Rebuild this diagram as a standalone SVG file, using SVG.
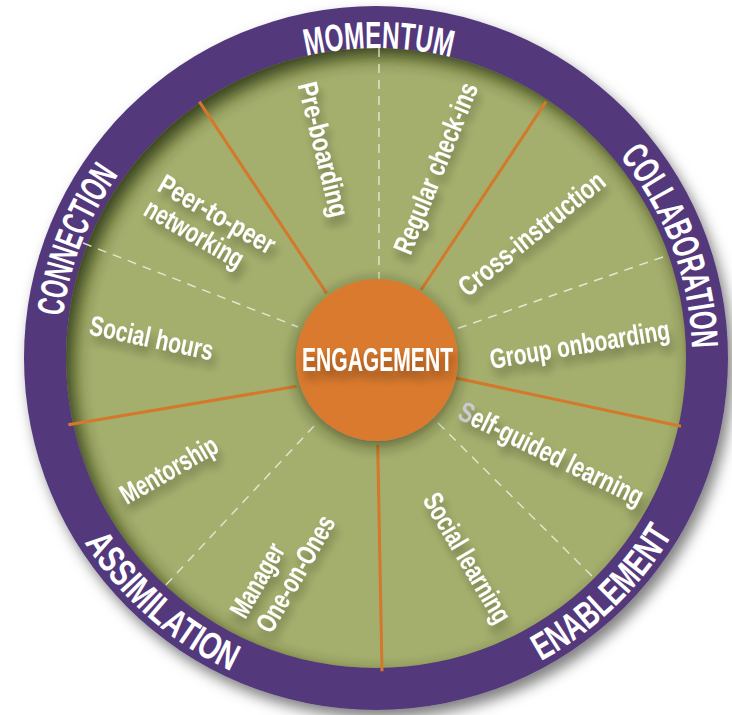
<svg xmlns="http://www.w3.org/2000/svg" width="732" height="715" viewBox="0 0 732 715">
  <style>
    .lbl { font-family: "Liberation Sans Narrow", "Liberation Sans", Arial, sans-serif; font-weight: bold; font-size: 28px; fill: #ffffff; }
    .arc { font-family: "Liberation Sans Narrow", "Liberation Sans", Arial, sans-serif; font-weight: bold; font-size: 38px; fill: #ffffff; text-anchor: middle; }
    .hub { font-family: "Liberation Sans Narrow", "Liberation Sans", Arial, sans-serif; font-weight: bold; font-size: 33px; fill: #ffffff; }
    .div { stroke: #d4782b; stroke-width: 3; stroke-linecap: butt; }
    .dash { stroke: #eef1e2; stroke-width: 1.4; stroke-dasharray: 9 7; opacity: 0.85; }
  </style>
  <defs>
    <filter id="ringShadow" x="-10%" y="-10%" width="125%" height="125%">
      <feDropShadow dx="5" dy="8" stdDeviation="7" flood-color="#000" flood-opacity="0.5"/>
    </filter>
    <filter id="soft" x="-20%" y="-20%" width="140%" height="140%">
      <feGaussianBlur stdDeviation="9"/>
    </filter>
    <filter id="hubShadow" x="-40%" y="-40%" width="180%" height="180%">
      <feDropShadow dx="0" dy="4" stdDeviation="8" flood-color="#1e2608" flood-opacity="0.6"/>
    </filter>
    <filter id="tshadow" filterUnits="userSpaceOnUse" x="0" y="0" width="732" height="715">
      <feGaussianBlur in="SourceAlpha" stdDeviation="5"/>
      <feOffset dx="3" dy="8"/>
      <feComponentTransfer><feFuncA type="linear" slope="0.35"/></feComponentTransfer>
      <feMerge><feMergeNode/><feMergeNode in="SourceGraphic"/></feMerge>
    </filter>
    <clipPath id="greenClip"><circle cx="376" cy="358" r="310"/></clipPath>
    <!-- baselines for the ring titles -->
    <path id="pMomentum" d="M108.9,200.7 A310,310 0 0 1 645.8,205.4"/>
    <path id="pCollab" d="M427.1,46.1 A316,316 0 0 1 620.5,558.2"/>
    <path id="pConnect" d="M128.7,554.7 A316,316 0 0 1 329.3,45.5"/>
    <path id="pAssim" d="M37.6,290.7 A345,345 0 0 0 486.9,684.7"/>
    <path id="pEnable" d="M280.3,689.5 A345,345 0 0 0 710.9,275.1"/>
  </defs>

  <rect width="732" height="715" fill="#ffffff"/>

  <!-- outer purple ring and green face -->
  <g id="wheel">
    <circle cx="376" cy="358" r="352" fill="#52397b" filter="url(#ringShadow)"/>
    <circle cx="376" cy="358" r="310" fill="#a5af6d"/>
    <g clip-path="url(#greenClip)">
      <circle cx="383" cy="366" r="332" fill="none" stroke="#27300f" stroke-width="44" filter="url(#soft)" opacity="0.9"/>
    </g>
  </g>

  <!-- ring titles -->
  <g id="ring-titles">
    <text class="arc"><textPath href="#pMomentum" startOffset="50%" textLength="146" lengthAdjust="spacingAndGlyphs">MOMENTUM</textPath></text>
    <text class="arc"><textPath href="#pCollab" startOffset="50%" textLength="209" lengthAdjust="spacingAndGlyphs">COLLABORATION</textPath></text>
    <text class="arc"><textPath href="#pConnect" startOffset="50%" textLength="154" lengthAdjust="spacingAndGlyphs">CONNECTION</textPath></text>
    <text class="arc"><textPath href="#pAssim" startOffset="50%" textLength="198" lengthAdjust="spacingAndGlyphs">ASSIMILATION</textPath></text>
    <text class="arc"><textPath href="#pEnable" startOffset="50%" textLength="185" lengthAdjust="spacingAndGlyphs">ENABLEMENT</textPath></text>
  </g>

  <!-- sector dividers -->
  <g id="connectors">
    <line class="div" x1="199.3" y1="101.7" x2="326.7" y2="293.3"/>
    <line class="div" x1="546" y1="101.7" x2="421" y2="290"/>
    <line class="div" x1="681" y1="426.3" x2="456" y2="378"/>
    <line class="div" x1="382" y1="671.3" x2="377.7" y2="444.7"/>
    <line class="div" x1="68.3" y1="424.7" x2="296.7" y2="386.3"/>
    <line class="dash" x1="379" y1="48" x2="379" y2="280"/>
    <line class="dash" x1="663" y1="257" x2="453" y2="330"/>
    <line class="dash" x1="438" y1="423" x2="596" y2="580"/>
    <line class="dash" x1="314" y1="426" x2="163" y2="588"/>
    <line class="dash" x1="83" y1="243" x2="298" y2="327"/>
  </g>

  <!-- sector labels -->
  <g id="pre-boarding" filter="url(#tshadow)">
    <text class="lbl" transform="translate(321,150) rotate(76)" y="7" text-anchor="middle" textLength="138" lengthAdjust="spacingAndGlyphs">Pre-boarding</text>
  </g>
  <g id="regular-check-ins" filter="url(#tshadow)">
    <text class="lbl" transform="translate(438,169) rotate(-68)" y="7" text-anchor="middle" textLength="182" lengthAdjust="spacingAndGlyphs">Regular check-ins</text>
  </g>
  <g id="cross-instruction" filter="url(#tshadow)">
    <text class="lbl" transform="translate(532,234) rotate(-39)" y="9" text-anchor="middle" textLength="180" lengthAdjust="spacingAndGlyphs">Cross-instruction</text>
  </g>
  <g id="group-onboarding" filter="url(#tshadow)">
    <text class="lbl" transform="translate(580,347) rotate(-9.5)" y="7" text-anchor="middle" textLength="182" lengthAdjust="spacingAndGlyphs">Group onboarding</text>
  </g>
  <g id="self-guided-learning" filter="url(#tshadow)">
    <text class="lbl" transform="translate(550,456) rotate(26)" y="7" text-anchor="middle" textLength="202" lengthAdjust="spacingAndGlyphs"><tspan fill="#c9cbd6">S</tspan>elf-guided learning</text>
  </g>
  <g id="social-learning" filter="url(#tshadow)">
    <text class="lbl" transform="translate(465,559) rotate(59.5)" y="7" text-anchor="middle" textLength="146" lengthAdjust="spacingAndGlyphs">Social learning</text>
  </g>
  <g id="manager-one-on-ones" filter="url(#tshadow)">
    <text class="lbl" transform="translate(259.5,581.5) rotate(-60)" y="7" text-anchor="middle" textLength="81" lengthAdjust="spacingAndGlyphs">Manager</text>
    <text class="lbl" transform="translate(296,574) rotate(-60)" y="9" text-anchor="middle" textLength="130" lengthAdjust="spacingAndGlyphs">One-on-Ones</text>
  </g>
  <g id="mentorship" filter="url(#tshadow)">
    <text class="lbl" transform="translate(170,472) rotate(-30)" y="7" text-anchor="middle" textLength="108" lengthAdjust="spacingAndGlyphs">Mentorship</text>
  </g>
  <g id="social-hours" filter="url(#tshadow)">
    <text class="lbl" transform="translate(151.5,338.5) rotate(12)" y="9" text-anchor="middle" textLength="126" lengthAdjust="spacingAndGlyphs">Social hours</text>
  </g>
  <g id="peer-networking" filter="url(#tshadow)">
    <g transform="translate(156,190) rotate(30)">
      <text class="lbl" x="0" y="0" textLength="130" lengthAdjust="spacingAndGlyphs">Peer-to-peer</text>
      <text class="lbl" x="0" y="28" textLength="110" lengthAdjust="spacingAndGlyphs">networking</text>
    </g>
  </g>

  <!-- hub -->
  <g id="engagement">
    <circle cx="377" cy="360" r="81" fill="#d97a2e" filter="url(#hubShadow)"/>
    <text class="hub" x="377.5" y="371" text-anchor="middle" textLength="151" lengthAdjust="spacingAndGlyphs" filter="url(#tshadow)">ENGAGEMENT</text>
  </g>
</svg>
